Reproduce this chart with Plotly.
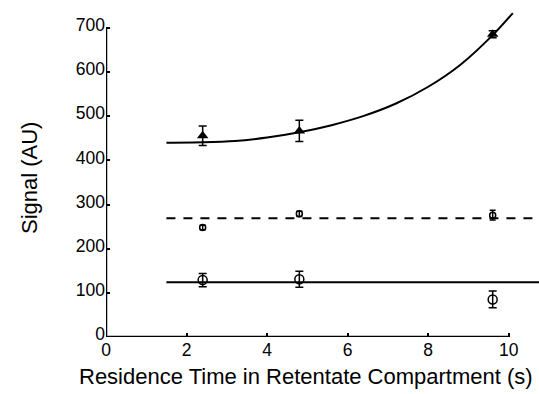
import plotly.graph_objects as go

# Data points
x_pts = [2.4, 4.8, 9.6]
tri_y = [456, 467, 686]
tri_err = [22, 24, 8]
mid_y = [248, 279, 276]
mid_err = [5, 6, 11]
low_y = [129, 131, 85]
low_err = [15, 18, 19]

# Fit curves
fit_x = [1.5, 2.4, 3.2, 4.0, 4.8, 5.6, 6.4, 7.2, 8.0, 8.8, 9.6, 10.1]
fit_y = [440, 441, 444, 452, 464, 480, 501, 529, 567, 617, 684, 734]
dash_x = [1.5, 10.75]
dash_y = [269, 269]
low_fit_x = [1.5, 10.75]
low_fit_y = [124, 124]

x_ticks = [0, 2, 4, 6, 8, 10]
y_ticks = [0, 100, 200, 300, 400, 500, 600, 700]
x_title = "Residence Time in Retentate Compartment (s)"
y_title = "Signal (AU)"

FONT = "Liberation Sans, Arial, Helvetica, sans-serif"

fig = go.Figure()
fig.add_trace(go.Scatter(x=fit_x, y=fit_y, mode="lines", line=dict(color="black", width=2, shape="spline", smoothing=0.8),
                         showlegend=False, hoverinfo="skip"))
fig.add_trace(go.Scatter(x=dash_x, y=dash_y, mode="lines", line=dict(color="black", width=2, dash="9px,8px"),
                         showlegend=False, hoverinfo="skip"))
fig.add_trace(go.Scatter(x=low_fit_x, y=low_fit_y, mode="lines", line=dict(color="black", width=2),
                         showlegend=False, hoverinfo="skip"))
fig.add_trace(go.Scatter(x=x_pts, y=tri_y, mode="markers",
                         marker=dict(symbol="triangle-up", size=10, color="black"),
                         error_y=dict(type="data", array=tri_err, color="black", thickness=1.5, width=4),
                         showlegend=False))
fig.add_trace(go.Scatter(x=x_pts, y=mid_y, mode="markers",
                         marker=dict(symbol="circle-open", size=6, color="black", line=dict(width=1.5)),
                         error_y=dict(type="data", array=mid_err, color="black", thickness=1.5, width=3),
                         showlegend=False))
fig.add_trace(go.Scatter(x=x_pts, y=low_y, mode="markers",
                         marker=dict(symbol="circle-open", size=9, color="black", line=dict(width=1.5)),
                         error_y=dict(type="data", array=low_err, color="black", thickness=1.5, width=4),
                         showlegend=False))

# axis lines (only span the tick range)
fig.add_shape(type="line", x0=0, x1=10, y0=0, y1=0, xref="x", yref="y", line=dict(color="black", width=2.5))
fig.add_shape(type="line", x0=0, x1=0, y0=0, y1=700, xref="x", yref="y", line=dict(color="black", width=2.5))

# axis titles as annotations (positioned like the reference)
fig.add_annotation(text=x_title, xref="paper", yref="paper", x=0.462, y=-0.118,
                   xanchor="center", yanchor="middle", showarrow=False, font=dict(size=22))
fig.add_annotation(text=y_title, xref="paper", yref="paper", x=-0.178, y=0.48,
                   xanchor="center", yanchor="middle", textangle=-90, showarrow=False, font=dict(size=22))

fig.update_layout(
    width=539, height=394,
    margin=dict(l=106, r=0, t=6, b=57),
    plot_bgcolor="white", paper_bgcolor="white",
    font=dict(family=FONT, size=17.5, color="black"),
    xaxis=dict(range=[0, 10.75], tickvals=x_ticks, ticks="inside", ticklen=4, tickwidth=1.5,
               tickcolor="black", showgrid=False, zeroline=False, showline=False,
               tickfont=dict(size=17.5)),
    yaxis=dict(range=[0, 750], tickvals=y_ticks, ticks="inside", ticklen=4, tickwidth=1.5,
               tickcolor="black", showgrid=False, zeroline=False, showline=False,
               tickfont=dict(size=17.5), ticklabelshift=-3),
)

fig.write_html("out.html")
